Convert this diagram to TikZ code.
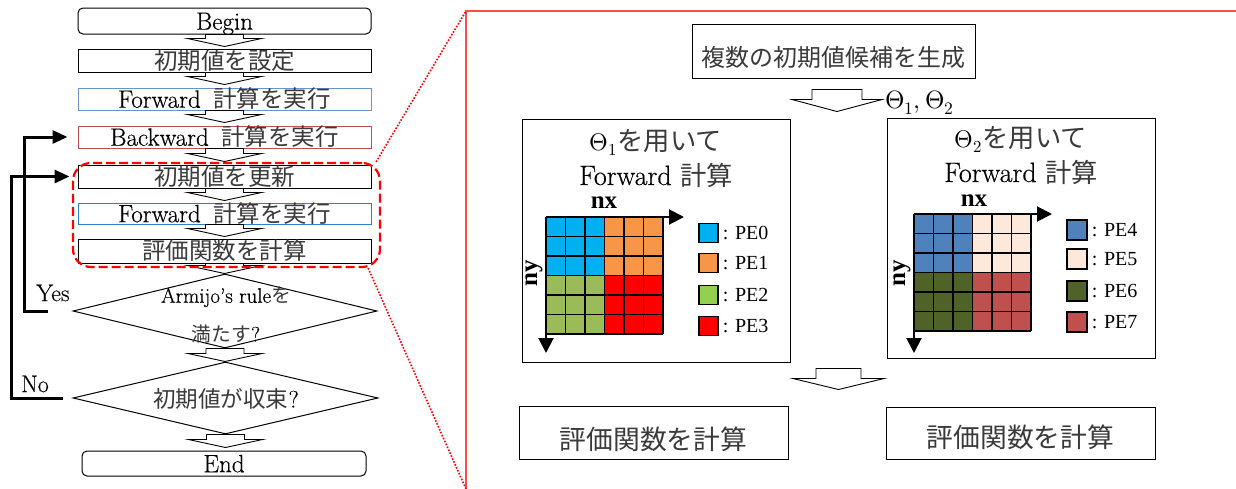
\documentclass[tikz,border=0pt]{standalone}
\usepackage{fontspec}
\usepackage{unicode-math}
\setmainfont{Latin Modern Roman}[FakeBold=0.35]
\setmathfont{Latin Modern Math}
\newfontfamily\jp{Noto Sans CJK JP}[Scale=0.94, Color=3A3A3A]
\newfontfamily\tms{Liberation Serif}
\usetikzlibrary{arrows.meta,calc,shapes.geometric}
\newcommand{\setfs}[1]{\fontsize{#1pt}{#1pt}\selectfont}
\definecolor{fwdblue}{HTML}{6A93CB}
\definecolor{bwdred}{HTML}{C0504D}
\definecolor{fwdblue2}{HTML}{2E7FD0}
\definecolor{selred}{HTML}{FF0000}
\definecolor{framered}{HTML}{FF4B4B}
\definecolor{pecyan}{HTML}{00B0F0}
\definecolor{peorange}{HTML}{F79646}
\definecolor{pegreen}{HTML}{9BBB59}
\definecolor{pelgreen}{HTML}{92D050}
\definecolor{pered}{HTML}{FF0000}
\definecolor{peblue}{HTML}{4F81BD}
\definecolor{pepeach}{HTML}{FDE9D9}
\definecolor{peolive}{HTML}{4F6228}
\definecolor{pebrown}{HTML}{C0504D}
\tikzset{
  fc/.style={draw=black, line width=1pt, minimum width=293pt, inner sep=0pt, font=\setfs{25}, text height=18.4pt, text depth=1pt},
  dia/.style={diamond, draw=black, line width=1pt, inner sep=0pt},
  lbl/.style={inner sep=0pt, font=\setfs{24}},
  blockarr/.style={draw=black, fill=white, line width=0.9pt, line join=miter},
  fb/.style={line width=3pt, -{Triangle[length=15pt,width=13pt]}},
  selbox/.style={draw=selred, line width=2.2pt, dash pattern=on 9pt off 4pt, rounded corners=18pt, minimum width=307pt, minimum height=104pt, inner sep=0pt},
  dotline/.style={draw=selred, line width=1.6pt, dash pattern=on 1.6pt off 1.6pt},
  rbox/.style={draw=black, line width=1pt, inner sep=0pt},
  cell/.style={draw=black, line width=1.1pt},
  axis/.style={line width=2pt, -{Triangle[length=15pt,width=15pt]}},
  axlbl/.style={inner sep=0pt, font=\tms\setfs{25}\bfseries},
  legsq/.style={draw=black, line width=1.2pt, minimum size=19pt, inner sep=0pt},
  leglbl/.style={inner sep=0pt, anchor=west, font=\tms\setfs{20}},
}
% block arrow between two flowchart nodes: #1 upper, #2 lower, #3 gap above lower
\newcommand{\barrow}[3]{%
  \coordinate (ba) at (#1.south);
  \coordinate (bb) at ($(#2.north)+(0,-#3-8)$);
  \coordinate (bt) at ($(#2.north)+(0,-#3)$);
  \draw[blockarr] ($(ba)+(-19,0)$) -- ($(ba|-bb)+(-19,0)$) -- ($(ba|-bb)+(-37,0)$) -- (ba|-bt) -- ($(ba|-bb)+(37,0)$) -- ($(ba|-bb)+(19,0)$) -- ($(ba)+(19,0)$) -- cycle;}
% processor grid: x0 y0 colours
\newcommand{\pegrid}[6]{%
  \fill[#3] (#1,#2) rectangle ++(58.5,58.5);
  \fill[#4] (#1+58.5,#2) rectangle ++(58.5,58.5);
  \fill[#5] (#1,#2+58.5) rectangle ++(58.5,58.5);
  \fill[#6] (#1+58.5,#2+58.5) rectangle ++(58.5,58.5);
  \foreach \k in {0,...,6}{
    \draw[cell] (#1+\k*19.5,#2) -- ++(0,117);
    \draw[cell] (#1,#2+\k*19.5) -- ++(117,0);}}
\begin{document}
\begin{tikzpicture}[x=1pt,y=-1pt]
\fill[white] (0,0) rectangle (1236,488);
\useasboundingbox (0,0) rectangle (1236,488);

% ---------- left flowchart ----------
\node[fc, minimum height=26pt, rounded corners=5pt] (begin) at (224.5,21) {Begin};
\node[fc, minimum height=23pt] (set) at (224.5,60.5) {{\jp 初期値を設定}};
\node[fc, draw=fwdblue, minimum height=22pt] (fwd1) at (224.5,99) {Forward\hspace{0.5em}{\jp 計算を実行}};
\node[fc, draw=bwdred, minimum height=22pt] (bwd) at (224.5,137) {Backward\hspace{0.5em}{\jp 計算を実行}};
\node[fc, minimum height=23pt] (upd) at (224.5,176.5) {{\jp 初期値を更新}};
\node[fc, draw=fwdblue2, minimum height=21pt] (fwd2) at (224.5,213.5) {Forward\hspace{0.5em}{\jp 計算を実行}};
\node[fc, minimum height=24pt] (eval) at (224.5,251) {{\jp 評価関数を計算}};
\node[dia, minimum width=304pt, minimum height=74pt] (d1) at (225,311) {};
\node[lbl, font=\setfs{21}] (d1a) at (226,297) {Armijo’s rule{\jp を}};
\node[lbl, font=\setfs{21}] (d1b) at (226,334) {{\jp 満たす}?};
\node[dia, minimum width=305pt, minimum height=72pt] (d2) at (225.5,398) {};
\node[lbl, font=\setfs{24}] (d2a) at (226,399) {{\jp 初期値が収束}?};
\node[fc, minimum width=284pt, minimum height=25pt, rounded corners=5pt] (end) at (224,463.5) {End};

\barrow{begin}{set}{2}
\barrow{set}{fwd1}{3}
\barrow{fwd1}{bwd}{3}
\barrow{bwd}{upd}{3}
\barrow{upd}{fwd2}{2}
\barrow{fwd2}{eval}{2}
\barrow{eval}{d1}{0}
\barrow{d1}{d2}{0}
\barrow{d2}{end}{3}

\draw[fb, shorten >=10pt] ([xshift=-25pt]d1.west) -- ++(-23,0) |- (bwd.west);
\draw[fb, shorten >=8pt] ([xshift=-10pt]d2.west) -- ++(-51,0) |- (upd.west);
\node[lbl] (yes) at (53,293) {Yes};
\node[lbl] (no) at (35,384) {No};

\node[selbox] (sel) at (226.5,215) {};

% ---------- zoom frame ----------
\coordinate (ftl) at (466,11);
\coordinate (fbl) at (466,489);
\coordinate (ftr) at (1237,11);
\draw[framered, line width=1.5pt] (fbl) -- (ftl) -- (ftr);
\draw[dotline] ($(sel.north east)+(-5,0)$) -- (ftl);
\draw[dotline] ($(sel.south east)+(-13,0)$) -- (fbl);

% ---------- right side ----------
\node[rbox, minimum width=283pt, minimum height=54pt, font=\setfs{25.5}, text height=31.2pt, text depth=1pt] (gen) at (833.5,51) {{\jp 複数の初期値候補を生成}};
\node[lbl, font=\setfs{25}, anchor=base west] (theta) at (885,108) {$\Theta_1,\Theta_2$};
\coordinate (ra) at ($(gen.south)+(3.5,11)$);
\draw[blockarr] ($(ra)+(-25,0)$) -- ++(0,10) -- ++(-20,0) -- ($(ra)+(0,22)$) -- ($(ra)+(45,10)$) -- ++(-20,0) -- ($(ra)+(25,0)$) -- cycle;

\node[rbox, minimum width=268pt, minimum height=243pt] (p1) at (656,240.5) {};
\node[rbox, minimum width=268pt, minimum height=240pt] (p2) at (1021,238) {};
\node[lbl, font=\setfs{28}, anchor=base] (p1a) at (656,150) {{\setfs{24}$\Theta_1$}{\jp を用いて}};
\node[lbl, font=\setfs{28}, anchor=base] (p1b) at (656,185) {Forward {\jp 計算}};
\node[lbl, font=\setfs{28}, anchor=base] (p2a) at (1021,147) {{\setfs{24}$\Theta_2$}{\jp を用いて}};
\node[lbl, font=\setfs{28}, anchor=base] (p2b) at (1021,182) {Forward {\jp 計算}};

\pegrid{546}{217}{pecyan}{peorange}{pegreen}{pered}
\pegrid{914}{214}{peblue}{pepeach}{peolive}{pebrown}

\coordinate (g1o) at (546,217);
\coordinate (g1x) at (684,217);
\coordinate (g1y) at (546,353);
\draw[axis] (g1o) -- (g1x);
\draw[axis] (g1o) -- (g1y);
\coordinate (g2o) at (914,214);
\coordinate (g2x) at (1052,214);
\coordinate (g2y) at (914,353);
\draw[axis] (g2o) -- (g2x);
\draw[axis] (g2o) -- (g2y);

\node[axlbl] (nx1) at (604,203) {nx};
\node[axlbl, rotate=90] (ny1) at (534,273) {ny};
\node[axlbl] (nx2) at (974,201) {nx};
\node[axlbl, rotate=90] (ny2) at (902,273) {ny};

\foreach \n/\c/\yy in {0/pecyan/233,1/peorange/263,2/pelgreen/295,3/pered/326}{
  \node[legsq, fill=\c] (l\n) at (708.5,\yy) {};
  \node[leglbl] (lt\n) at ($(l\n.east)+(4,0)$) {: PE\n};}
\foreach \n/\c/\yy in {4/peblue/230,5/pepeach/259,6/peolive/291,7/pebrown/322}{
  \node[legsq, minimum size=20pt, fill=\c] (l\n) at (1077,\yy) {};
  \node[leglbl] (lt\n) at ($(l\n.east)+(4,0)$) {: PE\n};}

\coordinate (rb) at ($(p1.south east)!0.5!(p2.south west)+(0,8)$);
\draw[blockarr] ($(rb)+(-22.5,0)$) -- ++(0,10) -- ++(-23,0) -- ($(rb)+(0,21)$) -- ($(rb)+(45.5,10)$) -- ++(-23,0) -- ($(rb)+(22.5,0)$) -- cycle;

\node[rbox, minimum width=269pt, minimum height=53pt, font=\setfs{28.5}, text height=34.4pt, text depth=1pt] (ev1) at (653.5,432.5) {{\jp 評価関数を計算}\hspace{11pt}};
\node[rbox, minimum width=269pt, minimum height=52pt, font=\setfs{28.5}, text height=29.4pt, text depth=1pt] (ev2) at (1020.5,433) {{\jp 評価関数を計算}\hspace{35pt}};
\end{tikzpicture}
\end{document}
